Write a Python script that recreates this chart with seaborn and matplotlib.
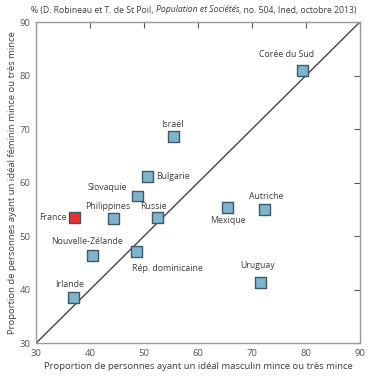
import matplotlib
matplotlib.use("Agg")
import matplotlib.pyplot as plt
import seaborn as sns
import pandas as pd

countries = ["Corée du Sud", "Israël", "Bulgarie", "Slovaquie", "Philippines", "Russie",
             "France", "Nouvelle-Zélande", "Rép. dominicaine", "Irlande", "Mexique",
             "Autriche", "Uruguay"]
ideal_masculin = [79.4, 55.4, 50.6, 48.8, 44.3, 52.5, 37.1, 40.5, 48.6, 36.9, 65.4, 72.4, 71.6]
ideal_feminin = [81.0, 68.6, 61.2, 57.5, 53.3, 53.5, 53.5, 46.3, 47.1, 38.5, 55.4, 55.0, 41.4]
groupe = ["autre"] * 6 + ["France"] + ["autre"] * 6
ticks = [30, 40, 50, 60, 70, 80, 90]

# label placement (offset in points, ha)
label_pos = {
    "Corée du Sud": ((-11.5, 11.5), "center"),
    "Israël": ((-0.5, 8.6), "center"),
    "Bulgarie": ((6.3, 0), "left"),
    "Slovaquie": ((-22, 5.8), "center"),
    "Philippines": ((-3.8, 8.4), "center"),
    "Russie": ((-3.1, 7.6), "center"),
    "France": ((-5.8, 0), "right"),
    "Nouvelle-Zélande": ((-4.3, 10.3), "center"),
    "Rép. dominicaine": ((22.5, -12), "center"),
    "Irlande": ((-2.9, 9.6), "center"),
    "Mexique": ((0.7, -9.9), "center"),
    "Autriche": ((0.7, 8.9), "center"),
    "Uruguay": ((-2.4, 11.7), "center"),
}

df = pd.DataFrame({"pays": countries, "x": ideal_masculin, "y": ideal_feminin, "groupe": groupe})

sns.set_style("white")
plt.rcParams["font.family"] = ["Open Sans", "DejaVu Sans"]

fig = plt.figure(figsize=(3.8, 3.8), dpi=100)
ax = fig.add_axes([0.095, 0.097, 0.852, 0.845])

txt = "#3c3c3c"
ax.axline((30, 30), slope=1, color="#444444", lw=1.0, zorder=1)

sns.scatterplot(data=df, x="x", y="y", hue="groupe",
                palette={"autre": "#7fb4cf", "France": "#e8322b"},
                marker="s", s=62, edgecolor="#3d5866", linewidth=1.0,
                legend=False, ax=ax, zorder=3)

for _, r in df.iterrows():
    (dx, dy), ha = label_pos[r["pays"]]
    ax.annotate(r["pays"], (r["x"], r["y"]), xytext=(dx, dy), textcoords="offset points",
                ha=ha, va="center", fontsize=6.3, color=txt)

ax.set_xlim(30, 90)
ax.set_ylim(30, 90)
ax.set_xticks(ticks)
ax.set_yticks(ticks)
ax.tick_params(direction="in", length=4, width=0.8, color="#555555",
               top=True, right=True, labelsize=6.8, labelcolor="#555555", pad=4)
for s in ax.spines.values():
    s.set_color("#9a9a9a")
    s.set_linewidth(1.0)

ax.set_xlabel("Proportion de personnes ayant un idéal masculin mince ou très mince",
              fontsize=6.8, color=txt, labelpad=3)
ax.set_ylabel("Proportion de personnes ayant un idéal féminin mince ou très mince",
              fontsize=6.8, color=txt, labelpad=2)

# source line with italic title
fig.canvas.draw()
renderer = fig.canvas.get_renderer()
parts = [("% (D. Robineau et T. de St Poil, ", "normal"),
         ("Population et Sociétés", "italic"),
         (", no. 504, Ined, octobre 2013)", "normal")]
x0 = 31 / 380
for t, st in parts:
    tt = fig.text(x0, 1 - 10 / 380, t, fontsize=6.2, style=st, color=txt, ha="left", va="center")
    bb = tt.get_window_extent(renderer)
    x0 += bb.width / fig.bbox.width

fig.savefig("out.png", dpi=100)
